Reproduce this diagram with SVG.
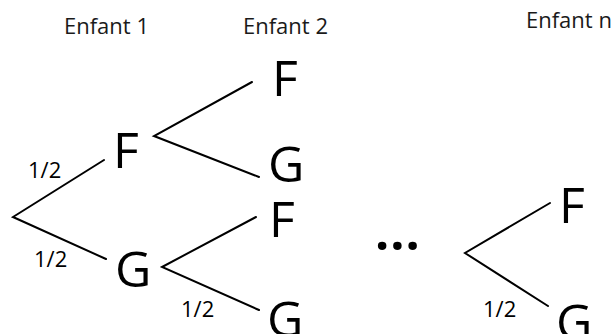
<svg xmlns="http://www.w3.org/2000/svg" width="614" height="334" viewBox="0 0 614 334">
<style>
.hdr{font-family:"Open Sans","Liberation Sans",sans-serif;font-size:22px;fill:#1a1a1a}
.node{font-family:"Open Sans","Liberation Sans",sans-serif;font-size:50px;fill:#000}
.p{font-family:"Open Sans","Liberation Sans",sans-serif;font-size:22px;fill:#000}
.edge{stroke:#000;stroke-width:2;fill:none;stroke-linecap:round}
</style>
<rect width="614" height="334" fill="#fff"/>
<g id="headers">
<text class="hdr" x="64" y="34">Enfant 1</text>
<text class="hdr" x="243" y="34">Enfant 2</text>
<text class="hdr" x="526" y="28">Enfant n</text>
</g>
<g id="connectors">
<polyline class="edge" points="104,160 13,217 106,259"/>
<polyline class="edge" points="252,82 154,136 259,177"/>
<polyline class="edge" points="256,217 162,267 259,310"/>
<polyline class="edge" points="550,203 465,253 548,306"/>
</g>
<g id="labels">
<text class="p" x="28" y="178">1/2</text>
<text class="p" x="34" y="267">1/2</text>
<text class="p" x="181" y="317">1/2</text>
<text class="p" x="483" y="317">1/2</text>
</g>
<g id="n1F"><text class="node" x="113" y="168">F</text></g>
<g id="n1G"><text class="node" x="115" y="287">G</text></g>
<g id="n2FF"><text class="node" x="272" y="96">F</text></g>
<g id="n2FG"><text class="node" x="268" y="182">G</text></g>
<g id="n2GF"><text class="node" x="269" y="237">F</text></g>
<g id="n2GG"><text class="node" x="267" y="337">G</text></g>
<g id="dots"><text class="node" x="375" y="250" letter-spacing="1" font-weight="bold">...</text></g>
<g id="nnF"><text class="node" x="559" y="223">F</text></g>
<g id="nnG"><text class="node" x="556" y="340">G</text></g>
</svg>
